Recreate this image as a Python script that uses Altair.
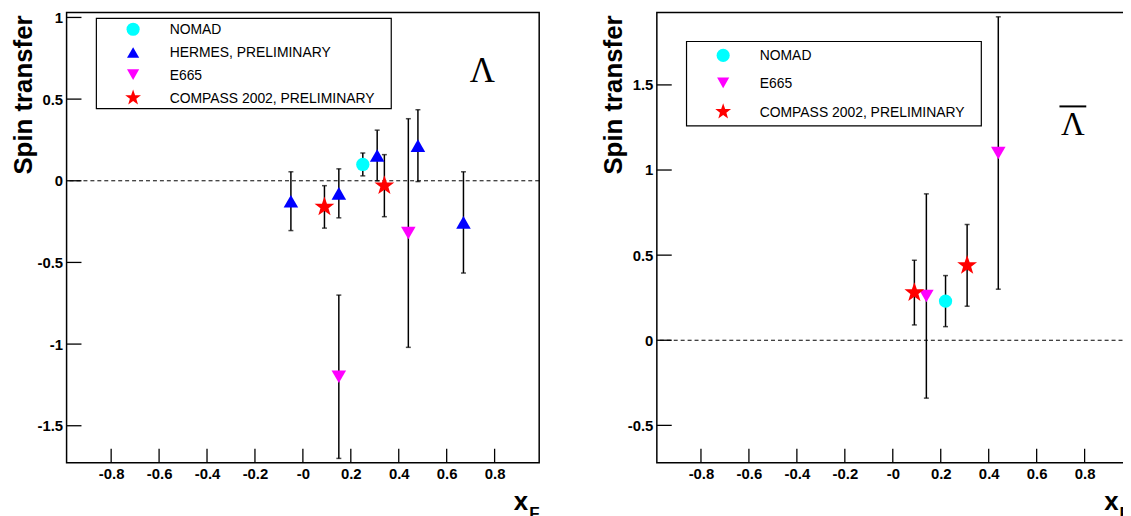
import altair as alt
import pandas as pd

# ---------------- series definitions ----------------
SERIES = ["NOMAD", "HERMES, PRELIMINARY", "E665", "COMPASS 2002, PRELIMINARY"]
COLORS = ["#00ffff", "#0000ff", "#ff00ff", "#ff0000"]
STAR = ("M0,-1L0.24,-0.31L0.951,-0.309L0.385,0.125L0.588,0.809L0,0.40"
        "L-0.588,0.809L-0.385,0.125L-0.951,-0.309L-0.24,-0.31Z")
SHAPES = ["circle", "triangle-up", "triangle-down", STAR]
SIZES = [180, 215, 215, 440]
LEGEND_SIZES = [175, 150, 150, 280]

# ---------------- Lambda panel data ----------------
L_NOMAD_X = [0.25]
L_NOMAD_Y = [0.10]
L_NOMAD_E = [0.07]
L_HERMES_X = [-0.05, 0.15, 0.31, 0.48, 0.67]
L_HERMES_Y = [-0.125, -0.077, 0.155, 0.215, -0.255]
L_HERMES_E = [0.18, 0.15, 0.155, 0.22, 0.31]
L_E665_X = [0.15, 0.44]
L_E665_Y = [-1.20, -0.32]
L_E665_E = [0.50, 0.70]
L_COMPASS_X = [0.09, 0.34]
L_COMPASS_Y = [-0.16, -0.03]
L_COMPASS_E = [0.13, 0.19]

# ---------------- anti-Lambda panel data ----------------
A_NOMAD_X = [0.22]
A_NOMAD_Y = [0.23]
A_NOMAD_E = [0.15]
A_E665_X = [0.14, 0.44]
A_E665_Y = [0.26, 1.10]
A_E665_E = [0.60, 0.80]
A_COMPASS_X = [0.09, 0.31]
A_COMPASS_Y = [0.28, 0.44]
A_COMPASS_E = [0.19, 0.24]

XTICKS = [-0.8, -0.6, -0.4, -0.2, 0.0, 0.2, 0.4, 0.6, 0.8]
L_YTICKS = [-1.5, -1.0, -0.5, 0.0, 0.5, 1.0]
A_YTICKS = [-0.5, 0.0, 0.5, 1.0, 1.5]
L_XDOM = [-0.986, 0.986]
L_YDOM = [-1.726, 1.031]
A_XDOM = [-0.984, 0.987]
A_YDOM = [-0.719, 1.926]

W, H = 476, 453.5
FONT = "Liberation Sans"


def make_df(groups):
    rows = []
    for name, xs, ys, es in groups:
        for x, y, e in zip(xs, ys, es):
            rows.append({"series": name, "x": x, "y": y, "lo": y - e, "hi": y + e})
    return pd.DataFrame(rows)


def panel(df, xdom, ydom, yticks, legend_names, box, rows, sym_x, greek, greek_x,
          greek_y, greek_size, overbar=None):
    xscale = alt.Scale(domain=xdom, nice=False, zero=False)
    yscale = alt.Scale(domain=ydom, nice=False, zero=False)
    xaxis = alt.Axis(values=XTICKS, title=None, ticks=False, tickSize=0, domain=False,
                     grid=False, labelFont=FONT, labelFontWeight="bold", labelFontSize=15,
                     labelColor="black", labelPadding=4, labelFlush=False,
                     labelOverlap=False,
                     labelExpr="datum.value == 0 ? '-0' : toString(datum.value)")
    yaxis = alt.Axis(values=yticks, title="Spin transfer", ticks=False, tickSize=0,
                     domain=False, grid=False, labelFont=FONT, labelFontWeight="bold",
                     labelFontSize=15, labelColor="black", labelPadding=4,
                     labelFlush=False, labelOverlap=False,
                     labelExpr="toString(datum.value)",
                     titleFont=FONT, titleFontWeight="bold", titleFontSize=26,
                     titleColor="black", titleAngle=270, titleAlign="right",
                     titleBaseline="alphabetic", titleX=-35.5, titleY=2.6)

    def X(f):
        return alt.X(f, type="quantitative", scale=xscale, axis=xaxis)

    def Y(f):
        return alt.Y(f, type="quantitative", scale=yscale, axis=yaxis)

    zero = alt.Chart(pd.DataFrame({"v": [0.0]})).mark_rule(
        color="black", strokeWidth=1, strokeDash=[4, 3]).encode(y=Y("v"))

    base = alt.Chart(df)
    bars = base.mark_rule(color="black", strokeWidth=1.5).encode(
        x=X("x"), y=Y("lo"), y2="hi")
    cap_lo = base.mark_tick(orient="horizontal", size=5, thickness=1.5,
                            color="black").encode(x=X("x"), y=Y("lo"))
    cap_hi = base.mark_tick(orient="horizontal", size=5, thickness=1.5,
                            color="black").encode(x=X("x"), y=Y("hi"))
    pts = base.mark_point(filled=True, opacity=1, strokeWidth=0).encode(
        x=X("x"), y=Y("y"),
        shape=alt.Shape("series:N", scale=alt.Scale(domain=SERIES, range=SHAPES), legend=None),
        color=alt.Color("series:N", scale=alt.Scale(domain=SERIES, range=COLORS), legend=None),
        size=alt.Size("series:N", scale=alt.Scale(type="ordinal", domain=SERIES, range=SIZES),
                      legend=None),
    )

    xt = alt.Chart(pd.DataFrame({"t": XTICKS})).mark_rule(
        color="black", strokeWidth=1.3).encode(
        x=X("t"), y=alt.value(H - 14), y2=alt.value(H))
    yt = alt.Chart(pd.DataFrame({"t": yticks})).mark_rule(
        color="black", strokeWidth=1.3).encode(
        y=Y("t"), x=alt.value(0), x2=alt.value(15))

    layers = [zero, bars, cap_lo, cap_hi, pts, xt, yt]

    one = pd.DataFrame({"a": [0]})
    layers.append(alt.Chart(one).mark_rect(fill="white", stroke="black", strokeWidth=1.2).encode(
        x=alt.value(box[0]), x2=alt.value(box[1]), y=alt.value(box[2]), y2=alt.value(box[3])))

    for name, ry in zip(legend_names, rows):
        i = SERIES.index(name)
        d = pd.DataFrame({"label": [name]})
        layers.append(alt.Chart(d).mark_point(
            filled=True, opacity=1, strokeWidth=0, shape=SHAPES[i], color=COLORS[i],
            size=LEGEND_SIZES[i]).encode(x=alt.value(sym_x), y=alt.value(ry)))
        layers.append(alt.Chart(d).mark_text(
            align="left", baseline="alphabetic", font=FONT, fontSize=14, color="black").encode(
            text="label:N", x=alt.value(sym_x + 36.8), y=alt.value(ry + 5)))

    layers.append(alt.Chart(pd.DataFrame({"g": [greek]})).mark_text(
        align="center", baseline="alphabetic", font="Liberation Serif", fontSize=greek_size,
        color="black").encode(text="g:N", x=alt.value(greek_x), y=alt.value(greek_y)))
    if overbar is not None:
        layers.append(alt.Chart(one).mark_rule(color="black", strokeWidth=2).encode(
            x=alt.value(overbar[0]), x2=alt.value(overbar[1]), y=alt.value(overbar[2])))

    layers.append(alt.Chart(pd.DataFrame({"s": ["x"]})).mark_text(
        align="left", baseline="alphabetic", font=FONT, fontWeight="bold", fontSize=26,
        color="black").encode(text="s:N", x=alt.value(450.5), y=alt.value(501)))
    layers.append(alt.Chart(pd.DataFrame({"s": ["F"]})).mark_text(
        align="left", baseline="alphabetic", font=FONT, fontWeight="bold", fontSize=17,
        color="black").encode(text="s:N", x=alt.value(466), y=alt.value(510)))

    return alt.layer(*layers).properties(width=W, height=H)


lam_df = make_df([
    ("NOMAD", L_NOMAD_X, L_NOMAD_Y, L_NOMAD_E),
    ("HERMES, PRELIMINARY", L_HERMES_X, L_HERMES_Y, L_HERMES_E),
    ("E665", L_E665_X, L_E665_Y, L_E665_E),
    ("COMPASS 2002, PRELIMINARY", L_COMPASS_X, L_COMPASS_Y, L_COMPASS_E),
])
alam_df = make_df([
    ("NOMAD", A_NOMAD_X, A_NOMAD_Y, A_NOMAD_E),
    ("E665", A_E665_X, A_E665_Y, A_E665_E),
    ("COMPASS 2002, PRELIMINARY", A_COMPASS_X, A_COMPASS_Y, A_COMPASS_E),
])

left = panel(lam_df, L_XDOM, L_YDOM, L_YTICKS, SERIES,
             (30, 327, 6, 97), [17, 40.3, 62.7, 86], 67,
             "Λ", 418.8, 70.3, 35)
right = panel(alam_df, A_XDOM, A_YDOM, A_YTICKS,
              ["NOMAD", "E665", "COMPASS 2002, PRELIMINARY"],
              (29.9, 326.8, 29.3, 114.3), [43.3, 71, 100], 66.8,
              "Λ", 419, 123.7, 33, overbar=(405.5, 432.5, 94.7))

chart = alt.hconcat(left, right, spacing=118.5, bounds="flush").properties(
    autosize=alt.AutoSizeParams(type="none"),
    padding={"left": 59, "top": 1, "right": 1064, "bottom": 498},
    background="white",
).configure_view(stroke="black", strokeWidth=1.5)

chart.save("out.html", embed_options={"renderer": "svg", "actions": False})
